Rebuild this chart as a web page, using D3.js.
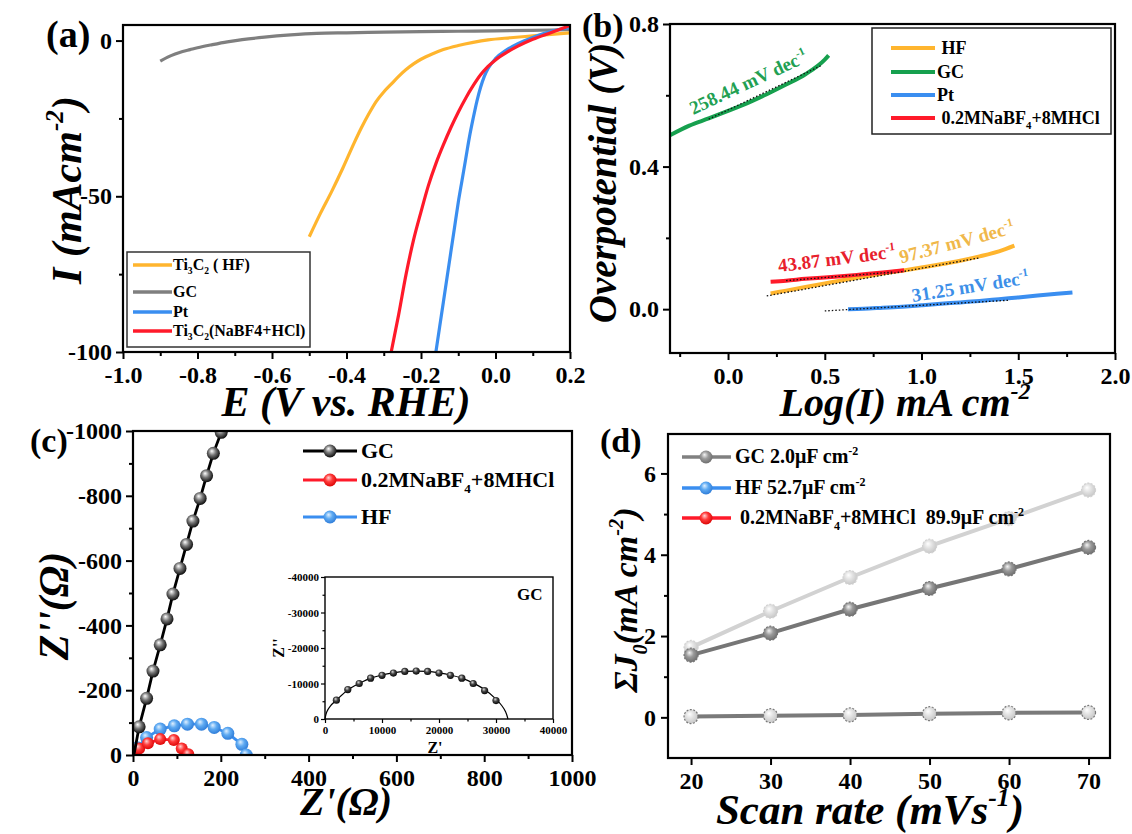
<!DOCTYPE html>
<html><head><meta charset="utf-8">
<script src="https://cdn.jsdelivr.net/npm/d3@7"></script>
<style>
body{margin:0;background:#fff}
text{font-family:"Liberation Serif","Times New Roman",serif;font-weight:bold;fill:#000;white-space:pre}
</style>
</head><body>
<svg id="chart" width="1132" height="834"></svg>
<script>
// ---------------- DATA ----------------
// (a) LSV curves
const aGC_E = [-0.90,-0.88,-0.86,-0.84,-0.82,-0.80,-0.76,-0.72,-0.68,-0.62,-0.55,-0.48,-0.40,-0.30,-0.20,-0.10,0.00,0.10,0.20];
const aGC_I = [-6.6,-5.3,-4.3,-3.5,-2.9,-2.3,-1.3,-0.4,0.3,1.1,1.8,2.3,2.5,2.7,2.9,3.0,3.1,3.3,3.5];
const aHF_E = [-0.50,-0.47,-0.44,-0.41,-0.38,-0.36,-0.34,-0.32,-0.30,-0.28,-0.26,-0.24,-0.22,-0.20,-0.17,-0.14,-0.10,-0.06,-0.02,0.04,0.10,0.20];
const aHF_I = [-63,-55.5,-48.5,-41,-33,-28,-23.5,-19.5,-16.5,-14,-11.5,-9.3,-7.5,-6,-4.3,-2.9,-1.6,-0.6,0.2,0.9,1.5,2.5];
const aPt_E = [-0.16,-0.15,-0.14,-0.13,-0.12,-0.11,-0.10,-0.09,-0.08,-0.07,-0.06,-0.05,-0.04,-0.03,-0.02,0.00,0.03,0.06,0.10,0.15,0.20];
const aPt_I = [-100,-92,-84,-76,-68,-60,-52,-45,-38,-31,-25,-19.5,-15,-11.5,-9,-5.8,-3,-1,1,3,4.2];
const aNa_E = [-0.28,-0.26,-0.24,-0.22,-0.20,-0.18,-0.16,-0.14,-0.12,-0.10,-0.08,-0.06,-0.04,-0.02,0.00,0.03,0.06,0.10,0.15,0.20];
const aNa_I = [-100,-88,-75,-64,-55,-46.5,-39.5,-33.5,-28,-23,-18.5,-14.5,-11,-8.3,-6.2,-3.8,-1.8,0.4,2.6,4.8];
const aLegend = ["HF","GC","Pt","NaBF4"];

// (b) Tafel plots
const bGC_x = [-0.30,-0.20,-0.10,0.00,0.10,0.20,0.30,0.40,0.50,0.52];
const bGC_y = [0.488,0.515,0.535,0.556,0.578,0.603,0.630,0.659,0.700,0.712];
const bHF_x = [0.22,0.30,0.40,0.50,0.60,0.70,0.80,0.90,1.00,1.10,1.20,1.30,1.40,1.48];
const bHF_y = [0.044,0.052,0.062,0.072,0.082,0.091,0.100,0.108,0.117,0.126,0.136,0.148,0.162,0.178];
const bNa_x = [0.22,0.30,0.40,0.50,0.60,0.70,0.80,0.91];
const bNa_y = [0.077,0.080,0.085,0.089,0.093,0.098,0.103,0.109];
const bPt_x = [0.62,0.70,0.80,0.90,1.00,1.10,1.20,1.30,1.40,1.50,1.60,1.70,1.78];
const bPt_y = [0.000,0.001,0.004,0.007,0.011,0.015,0.019,0.023,0.028,0.033,0.038,0.043,0.047];
const bFitGC = [[-0.10,0.533],[0.48,0.683]];
const bFitHF = [[0.20,0.037],[1.30,0.144]];
const bFitNa = [[0.30,0.080],[0.85,0.104]];
const bFitPt = [[0.50,-0.005],[1.45,0.025]];
const bSlopes = ["258.44","97.37","43.87","31.25"];

// (c) Nyquist plots
const cGC_re = [2,14,31,45.5,62,77.5,91,107,122,136.5,153,167.6,183,201];
const cGC_im = [0,-87,-175,-259,-340,-420,-497,-576,-650,-722,-792,-862,-931,-996];
const cNa_re = [3,14,34,62,93,111,126];
const cNa_im = [0,-20,-36,-49,-46,-20,-2];
const cHF_re = [2,10,31,62,94,124,156,185,216,248,258];
const cHF_im = [0,-22,-54,-80,-90,-95,-95,-85,-67,-33,0];
// inset: GC full semicircle
const iGC_re = [2000,4000,6000,8000,10000,12000,14000,16000,18000,20000,22000,24000,26000,28000,30000];
const iGC_im = [-5300,-8300,-10000,-11500,-12300,-12950,-13400,-13500,-13400,-12950,-12300,-11500,-10000,-8000,-5200];
const iFit_re = [0,300,1000,2000,4000,6000,8000,10000,12000,14000,16000,18000,20000,22000,24000,26000,28000,30000,31000,31700,32100];
const iFit_im = [0,-2000,-3800,-5300,-8200,-10000,-11500,-12400,-13000,-13400,-13500,-13400,-13000,-12400,-11500,-10100,-8300,-5600,-3800,-2000,0];

// (d) double-layer capacitance
const dScan = [20,30,40,50,60,70];
const dGC = [0.02,0.04,0.06,0.09,0.11,0.12];
const dHF = [1.53,2.07,2.66,3.17,3.65,4.18];
const dNa = [1.72,2.61,3.44,4.21,4.89,5.59];
const dCap = ["2.0","52.7","89.9"];

// ---------------- DRAWING ----------------
const svg = d3.select('#chart');
svg.append('rect').attr('width',1132).attr('height',834).attr('fill','#fff');
const defs = svg.append('defs');
function sphere(id, c0, c1, c2){
  const g = defs.append('radialGradient').attr('id',id)
    .attr('cx','45%').attr('cy','42%').attr('r','62%').attr('fx','38%').attr('fy','32%');
  g.append('stop').attr('offset','0%').attr('stop-color',c0);
  g.append('stop').attr('offset','45%').attr('stop-color',c1);
  g.append('stop').attr('offset','100%').attr('stop-color',c2);
}
sphere('sBlack','#ffffff','#777','#000');
sphere('sRed','#ffd6d6','#ff3b3b','#d80000');
sphere('sBlue','#e0f0ff','#5eaaf2','#2a78d6');
sphere('sGray','#f4f4f4','#9a9a9a','#6a6a6a');
sphere('sLight','#ffffff','#e2e2e2','#c4c4c4');
sphere('sInset','#dddddd','#444','#000');

const SERIF = '"Liberation Serif","Times New Roman",serif';
const COL = {yellow:'#ffb52e', gray:'#7f7f7f', blue:'#3a8ef0', red:'#ff1a2a', green:'#16a04e'};

function rich(sel, parts, size){
  let shift = 0;
  parts.forEach(p => {
    const t = typeof p === 'string' ? p : p[0];
    const m = typeof p === 'string' ? '' : p[1];
    const target = m === 'sub' ? 0.28*size : (m === 'sup' ? -0.42*size : 0);
    const ts = sel.append('tspan').text(t).attr('dy', target - shift);
    if (m) ts.attr('font-size', size*0.6);
    shift = target;
  });
  return sel;
}
function label(x, y, parts, size, opts={}){
  const t = svg.append('text').attr('font-size', size)
    .attr('text-anchor', opts.anchor || 'start')
    .attr('font-style', opts.italic ? 'italic' : 'normal')
    .attr('fill', opts.fill || '#000')
    .attr('transform', `translate(${x},${y})` + (opts.rot ? ` rotate(${opts.rot})` : ''));
  if (opts.fill) t.style('fill', opts.fill);
  rich(t, parts, size);
  return t;
}
function drawAxes(g, x, y, P, o){
  const fs = o.fs || 24;
  const add = (axis, tr) => {
    const a = g.append('g').attr('transform', tr).call(axis);
    a.select('.domain').remove();
    a.selectAll('line').attr('stroke','#000').attr('stroke-width', o.tw || 2);
    a.selectAll('text').attr('font-size', fs).style('font-family', SERIF).attr('font-weight','bold').style('fill','#000');
    return a;
  };
  const mn = o.minor || 4, mj = o.major || 7;
  if (o.xMinor) add(d3.axisBottom(x).tickValues(o.xMinor).tickSize(mn).tickFormat(''), `translate(0,${P.b})`);
  add(d3.axisBottom(x).tickValues(o.xMajor).tickSize(mj).tickPadding(o.xPad || 7).tickFormat(o.xFmt), `translate(0,${P.b})`);
  if (o.yMinor) add(d3.axisLeft(y).tickValues(o.yMinor).tickSize(mn).tickFormat(''), `translate(${P.l},0)`);
  add(d3.axisLeft(y).tickValues(o.yMajor).tickSize(mj).tickPadding(o.yPad || 4).tickFormat(o.yFmt), `translate(${P.l},0)`);
  g.append('rect').attr('x',P.l).attr('y',P.t).attr('width',P.r-P.l).attr('height',P.b-P.t)
    .attr('fill','none').attr('stroke','#000').attr('stroke-width', o.fw || 2.2);
}
function clip(id, P){
  defs.append('clipPath').attr('id',id).append('rect')
    .attr('x',P.l).attr('y',P.t).attr('width',P.r-P.l).attr('height',P.b-P.t);
  return `url(#${id})`;
}
const zip = (xs, ys) => xs.map((v,i) => [v, ys[i]]);

// ===== Panel (a) =====
{
  const P = {l:123, r:570, t:25, b:352};
  const x = d3.scaleLinear().domain([-1.0, 0.2]).range([P.l, P.r]);
  const y = d3.scaleLinear().domain([-100, 5]).range([P.b, P.t]);
  const g = svg.append('g');
  const line = d3.line().x(d => x(d[0])).y(d => y(d[1])).curve(d3.curveMonotoneX);
  const gl = g.append('g').attr('clip-path', clip('clipA', P));
  const series = [
    [aGC_E, aGC_I, COL.gray],
    [aHF_E, aHF_I, COL.yellow],
    [aPt_E, aPt_I, COL.blue],
    [aNa_E, aNa_I, COL.red]
  ];
  series.forEach(s => gl.append('path').attr('d', line(zip(s[0], s[1])))
    .attr('fill','none').attr('stroke', s[2]).attr('stroke-width', 3.2));
  drawAxes(g, x, y, P, {
    xMajor: d3.range(-1.0, 0.21, 0.2), xMinor: d3.range(-0.9, 0.2, 0.2),
    xFmt: d => (Math.abs(d) < 1e-9 ? 0 : d).toFixed(1),
    yMajor: [0,-50,-100], yMinor: [-25,-75], yFmt: d => String(d)
  });
  // legend
  const L = svg.append('g');
  L.append('rect').attr('x',127).attr('y',252).attr('width',183).attr('height',95)
    .attr('fill','#fff').attr('stroke','#333').attr('stroke-width',1.5);
  const rows = [265, 292, 312, 331];
  const cols = [COL.yellow, COL.gray, COL.blue, COL.red];
  const txt = [
    ['Ti',['3','sub'],'C',['2','sub'],' ( HF)'],
    ['GC'], ['Pt'],
    ['Ti',['3','sub'],'C',['2','sub'],'(NaBF4+HCl)']
  ];
  aLegend.forEach((k,i) => {
    L.append('line').attr('x1',133).attr('x2',172).attr('y1',rows[i]).attr('y2',rows[i])
      .attr('stroke', cols[i]).attr('stroke-width',3.5);
    label(173, rows[i]+5, txt[i], 16);
  });
  label(46, 47, ['(a)'], 38);
  label(346, 416, ['E (V vs. RHE)'], 42, {anchor:'middle', italic:true});
  label(81, 190, ['I (mAcm',['-2','sup'],')'], 42, {anchor:'middle', italic:true, rot:-90});
}

// ===== Panel (b) =====
{
  const P = {l:670, r:1115, t:24, b:353};
  const x = d3.scaleLinear().domain([-0.3, 2.0]).range([P.l, P.r]);
  const y = d3.scaleLinear().domain([-0.123, 0.8]).range([P.b, P.t]);
  const g = svg.append('g');
  const line = d3.line().x(d => x(d[0])).y(d => y(d[1])).curve(d3.curveMonotoneX);
  const gl = g.append('g').attr('clip-path', clip('clipB', P));
  [[bGC_x,bGC_y,COL.green],[bHF_x,bHF_y,COL.yellow],[bNa_x,bNa_y,COL.red],[bPt_x,bPt_y,COL.blue]]
    .forEach(s => gl.append('path').attr('d', line(zip(s[0], s[1])))
      .attr('fill','none').attr('stroke', s[2]).attr('stroke-width', 4));
  [bFitGC,bFitHF,bFitNa,bFitPt].forEach(f => gl.append('path').attr('d', d3.line().x(d=>x(d[0])).y(d=>y(d[1]))(f))
      .attr('fill','none').attr('stroke','#111').attr('stroke-width',1.3).attr('stroke-dasharray','1.5 2'));
  drawAxes(g, x, y, P, {
    xMajor: [0,0.5,1.0,1.5,2.0], xMinor: [-0.25,0.25,0.75,1.25,1.75],
    xFmt: d => d.toFixed(1),
    yMajor: [0,0.4,0.8], yMinor: [0.2,0.6], yFmt: d => d.toFixed(1)
  });
  // slope annotations
  const ann = [
    [bSlopes[0], -0.18, 0.545, -25, '#22a052'],
    [bSlopes[1], 0.895, 0.128, -15, '#f0b84a'],
    [bSlopes[2], 0.262, 0.104, -7, '#e8202c'],
    [bSlopes[3], 0.955, 0.020, -9, '#3d8fe8']
  ];
  ann.forEach(a => label(x(a[1]), y(a[2]), [a[0]+' mV dec',['-1','sup']], 19, {rot:a[3], fill:a[4]}));
  // legend
  const L = svg.append('g');
  L.append('rect').attr('x',872).attr('y',28).attr('width',239).attr('height',106)
    .attr('fill','#fff').attr('stroke','#222').attr('stroke-width',1.5);
  const rows = [48, 72, 95, 118];
  const cols = [COL.yellow, COL.green, COL.blue, COL.red];
  const txt = [[' HF'],['GC'],['Pt'],[' 0.2MNaBF',['4','sub'],'+8MHCl']];
  rows.forEach((r,i) => {
    L.append('line').attr('x1',891).attr('x2',935).attr('y1',r).attr('y2',r)
      .attr('stroke', cols[i]).attr('stroke-width',4);
    label(937, r+6, txt[i], 18);
  });
  label(582, 37, ['(b)'], 34);
  label(905, 416, ['Log(I) mA cm',['-2','sup']], 40, {anchor:'middle', italic:true});
  label(616, 183, ['Overpotential (V)'], 39, {anchor:'middle', italic:true, rot:-90});
}

// ===== Panel (c) =====
{
  const P = {l:133, r:572, t:431, b:755};
  const x = d3.scaleLinear().domain([0, 1000]).range([P.l, P.r]);
  const y = d3.scaleLinear().domain([0, -1000]).range([P.b, P.t]);
  const g = svg.append('g');
  const gl = g.append('g').attr('clip-path', clip('clipC', P));
  const line = d3.line().x(d => x(d[0])).y(d => y(d[1]));
  const series = [
    [cHF_re, cHF_im, COL.blue, 'sBlue', 6.5],
    [cNa_re, cNa_im, COL.red, 'sRed', 6],
    [cGC_re, cGC_im, '#000', 'sBlack', 6.5]
  ];
  series.forEach(s => {
    const pts = zip(s[0], s[1]);
    gl.append('path').attr('d', line(pts)).attr('fill','none').attr('stroke', s[2]).attr('stroke-width', 2.8);
    gl.selectAll(null).data(pts.slice(1)).enter().append('circle')
      .attr('cx', d => x(d[0])).attr('cy', d => y(d[1])).attr('r', s[4])
      .attr('fill', `url(#${s[3]})`);
  });
  drawAxes(g, x, y, P, {
    xMajor: d3.range(0, 1001, 200), xMinor: d3.range(100, 1000, 200), xFmt: d => String(d),
    yMajor: d3.range(0, -1001, -200), yMinor: d3.range(-100, -1000, -200), yFmt: d => String(d)
  });
  // legend
  const rows = [451, 480, 517];
  const lc = [['#000','sBlack'],[COL.red,'sRed'],[COL.blue,'sBlue']];
  const txt = [['GC'],['0.2MNaBF',['4','sub'],'+8MHCl'],['HF']];
  rows.forEach((r,i) => {
    svg.append('line').attr('x1',303).attr('x2',357).attr('y1',r).attr('y2',r)
      .attr('stroke', lc[i][0]).attr('stroke-width',3);
    svg.append('circle').attr('cx',330).attr('cy',r).attr('r',6.5).attr('fill',`url(#${lc[i][1]})`);
    label(361, r+7, txt[i], 22);
  });
  label(30, 452, ['(c)'], 34);
  label(346, 815, ["Z'(Ω)"], 40, {anchor:'middle', italic:true});
  label(68, 606, ["Z''(Ω)"], 42, {anchor:'middle', italic:true, rot:-90});

  // ----- inset -----
  const I = {l:325, r:553, t:577, b:719};
  const xi = d3.scaleLinear().domain([0, 40000]).range([I.l, I.r]);
  const yi = d3.scaleLinear().domain([0, -40000]).range([I.b, I.t]);
  const gi = svg.append('g');
  gi.append('rect').attr('x',I.l).attr('y',I.t).attr('width',I.r-I.l).attr('height',I.b-I.t).attr('fill','#fff');
  gi.append('path').attr('d', d3.line().x(d=>xi(d[0])).y(d=>yi(d[1])).curve(d3.curveCatmullRom)(zip(iFit_re, iFit_im)))
    .attr('fill','none').attr('stroke','#000').attr('stroke-width',1.2);
  gi.selectAll(null).data(zip(iGC_re, iGC_im)).enter().append('circle')
    .attr('cx', d => xi(d[0])).attr('cy', d => yi(d[1])).attr('r', 3.6).attr('fill','url(#sInset)');
  drawAxes(gi, xi, yi, I, {
    fs: 11, major: 4, minor: 2.5, tw: 1.2, fw: 1.4, xPad: 3, yPad: 2,
    xMajor: d3.range(0, 40001, 10000), xMinor: d3.range(5000, 40000, 10000), xFmt: d => String(d),
    yMajor: d3.range(0, -40001, -10000), yMinor: d3.range(-5000, -40000, -10000), yFmt: d => String(d)
  });
  label(517, 600, ['GC'], 17);
  label(435, 753, ["Z'"], 16, {anchor:'middle'});
  label(284, 648, ["Z''"], 16, {anchor:'middle', rot:-90});
}

// ===== Panel (d) =====
{
  const P = {l:668, r:1110, t:434, b:758};
  const x = d3.scaleLinear().domain([17.1, 72.7]).range([P.l, P.r]);
  const y = d3.scaleLinear().domain([-1, 6.97]).range([P.b, P.t]);
  const g = svg.append('g');
  const line = d3.line().x((d,i) => x(dScan[i])).y(d => y(d));
  const series = [
    [dNa, '#d2d2d2', 'sLight'],
    [dHF, '#767676', 'sGray'],
    [dGC, '#7a7a7a', 'sLight']
  ];
  series.forEach(s => {
    g.append('path').attr('d', line(s[0])).attr('fill','none').attr('stroke', s[1]).attr('stroke-width', 4);
    g.selectAll(null).data(s[0]).enter().append('circle')
      .attr('cx', (d,i) => x(dScan[i])).attr('cy', d => y(d)).attr('r', 7)
      .attr('fill', `url(#${s[2]})`).attr('stroke', s[1]).attr('stroke-width',1.2).attr('stroke-dasharray','2 1.5');
  });
  drawAxes(g, x, y, P, {
    xMajor: dScan, xFmt: d => String(d),
    yMajor: [0,2,4,6], yMinor: [1,3,5], yFmt: d => String(d), yPad: 5
  });
  // legend
  const rows = [457, 488, 518];
  const lc = [['#808080','sGray'],[COL.blue,'sBlue'],[COL.red,'sRed']];
  const txt = [
    ['GC '+dCap[0]+'μF cm',['-2','sup']],
    ['HF '+dCap[1]+'μF cm',['-2','sup']],
    [' 0.2MNaBF',['4','sub'],'+8MHCl  '+dCap[2]+'μF cm',['-2','sup']]
  ];
  rows.forEach((r,i) => {
    svg.append('line').attr('x1',682).attr('x2',731).attr('y1',r).attr('y2',r)
      .attr('stroke', lc[i][0]).attr('stroke-width',3.5);
    svg.append('circle').attr('cx',706).attr('cy',r).attr('r',6.5).attr('fill',`url(#${lc[i][1]})`);
    label(735, r+6, txt[i], 20);
  });
  label(600, 452, ['(d)'], 34);
  label(870, 824, ['Scan rate (mVs',['-1','sup'],')'], 43, {anchor:'middle', italic:true});
  label(637, 600, ['ΣJ',['0','sub'],'(mA cm',['-2','sup'],')'], 34, {anchor:'middle', italic:true, rot:-90});
}
</script>
</body></html>
